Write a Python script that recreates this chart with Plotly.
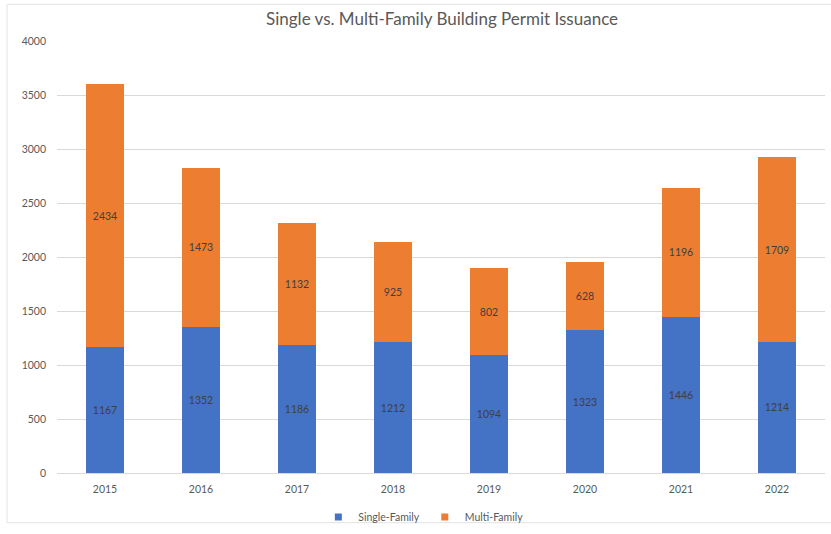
import plotly.graph_objects as go

years = ["2015", "2016", "2017", "2018", "2019", "2020", "2021", "2022"]
single_family = [1167, 1352, 1186, 1212, 1094, 1323, 1446, 1214]
multi_family = [2434, 1473, 1132, 925, 802, 628, 1196, 1709]

FONT = "Lato, Open Sans, sans-serif"
LABEL_COLOR = "#404040"
AXIS_COLOR = "#595959"
BLUE = "#4472C4"
ORANGE = "#ED7D31"

fig = go.Figure()
fig.add_trace(go.Bar(
    name="Single-Family", x=years, y=single_family, showlegend=False,
    marker=dict(color=BLUE, line=dict(width=0)),
    text=single_family, textposition="inside", insidetextanchor="middle",
    textfont=dict(color=LABEL_COLOR, size=10.5, family=FONT),
))
fig.add_trace(go.Bar(
    name="Multi-Family", x=years, y=multi_family, showlegend=False,
    marker=dict(color=ORANGE, line=dict(width=0)),
    text=multi_family, textposition="inside", insidetextanchor="middle",
    textfont=dict(color=LABEL_COLOR, size=10.5, family=FONT),
))

# compact square legend keys
for name, color in [("Single-Family", BLUE), ("Multi-Family", ORANGE)]:
    fig.add_trace(go.Scatter(
        x=[None], y=[None], mode="markers", name=name,
        marker=dict(symbol="square", size=7, color=color),
    ))

# outer chart frame
fig.add_shape(type="rect", xref="paper", yref="paper",
              x0=-0.065, x1=1.02, y0=-0.115, y1=1.085,
              line=dict(color="#e3e3e3", width=1), layer="below")

fig.update_layout(
    width=831, height=534,
    barmode="stack", bargap=0.6,
    margin=dict(l=57, r=6, t=41, b=61, autoexpand=False),
    paper_bgcolor="white", plot_bgcolor="white",
    font=dict(family=FONT, color=AXIS_COLOR, size=10),
    title=dict(text="Single vs. Multi-Family Building Permit Issuance",
               x=0.532, xanchor="center", y=0.965, yanchor="middle",
               font=dict(size=17, color=AXIS_COLOR, family=FONT)),
    uniformtext=dict(minsize=10, mode="show"),
    showlegend=True,
    legend=dict(orientation="h", x=0.477, xanchor="center",
                yref="container", y=0.032, yanchor="middle",
                font=dict(size=10.5, color=AXIS_COLOR), itemwidth=30,
                bgcolor="rgba(0,0,0,0)", traceorder="normal",
                tracegroupgap=0),
    xaxis=dict(showgrid=False, showline=False, ticks="", ticklabelstandoff=8,
               tickfont=dict(size=10.5, color=AXIS_COLOR)),
    yaxis=dict(range=[0, 4000], dtick=500, showgrid=True, gridcolor="#d9d9d9",
               gridwidth=1, zeroline=True, zerolinecolor="#d9d9d9", zerolinewidth=1,
               showline=False, ticks="", ticklabelstandoff=10,
               tickfont=dict(size=10.5, color=AXIS_COLOR)),
)

fig.write_html("out.html")
